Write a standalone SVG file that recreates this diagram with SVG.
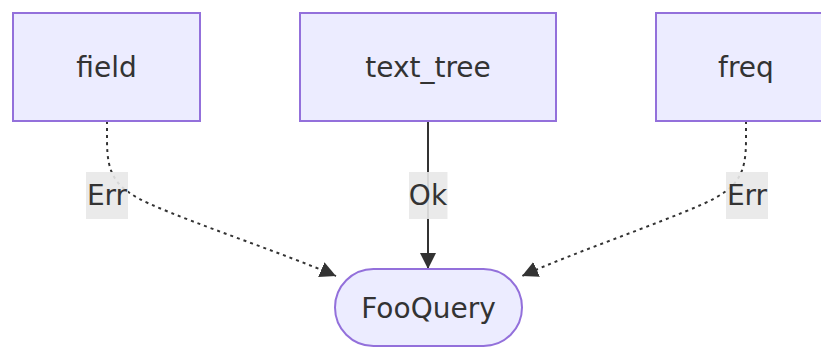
<svg xmlns="http://www.w3.org/2000/svg" width="821" height="347" viewBox="0 0 821 347">
<style>
.node{fill:#ECECFF;stroke:#9370DB;stroke-width:2}
.lbl{font-family:"DejaVu Sans",sans-serif;font-size:28px;fill:#333;text-anchor:middle}
.edge{fill:none;stroke:#333;stroke-width:2}
.dot{stroke-dasharray:3 4}
.elbg{fill:#e8e8e8;fill-opacity:0.9}
</style>
<defs>
<marker id="arrow" viewBox="0 0 10 10" refX="10" refY="5" markerUnits="userSpaceOnUse" markerWidth="16" markerHeight="16" orient="auto">
<path d="M0,0 L10,5 L0,10 z" fill="#333"/>
</marker>
</defs>
<rect width="821" height="347" fill="#fff"/>
<g id="connectors">
<path class="edge dot" d="M107,121 L107,140 C107,175 115,188 150,204 C200,226 280,252 336,276" marker-end="url(#arrow)"/>
<path class="edge" d="M428,121 L428,269" marker-end="url(#arrow)"/>
<path class="edge dot" d="M746,121 L746,140 C746,175 738,188 703,204 C653,226 575,252 522,276" marker-end="url(#arrow)"/>
<g id="label-err-left"><rect class="elbg" x="86" y="172" width="42" height="47"/><text class="lbl" x="107" y="204.5">Err</text></g>
<g id="label-ok"><rect class="elbg" x="409" y="172" width="38.5" height="47"/><text class="lbl" x="428" y="204.5">Ok</text></g>
<g id="label-err-right"><rect class="elbg" x="726" y="172" width="42" height="47"/><text class="lbl" x="747" y="204.5">Err</text></g>
</g>
<g id="node-field"><rect class="node" x="13" y="13" width="187" height="108"/><text class="lbl" x="106.5" y="77">field</text></g>
<g id="node-text_tree"><rect class="node" x="300" y="13" width="256" height="108"/><text class="lbl" x="428" y="77">text_tree</text></g>
<g id="node-freq"><rect class="node" x="656" y="13" width="180" height="108"/><text class="lbl" x="746" y="77">freq</text></g>
<g id="node-FooQuery"><rect class="node" x="335" y="269" width="187" height="77" rx="38.5" ry="38.5"/><text class="lbl" x="428.5" y="318">FooQuery</text></g>
</svg>
